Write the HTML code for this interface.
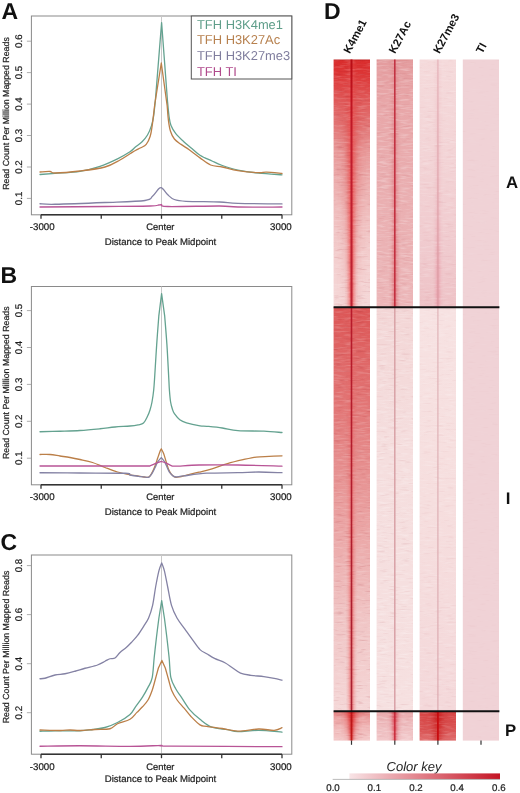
<!DOCTYPE html>
<html><head><meta charset="utf-8"><style>
html,body{margin:0;padding:0;background:#fff;width:520px;height:793px;overflow:hidden}
svg{display:block;filter:blur(0.3px)}
text{font-family:"Liberation Sans",sans-serif;text-rendering:geometricPrecision}
.t{fill:#1e1e1e;stroke:#1e1e1e;stroke-width:0.22px}
</style></head><body>
<svg width="520" height="793" viewBox="0 0 520 793" font-family='"Liberation Sans", sans-serif'>
<rect width="520" height="793" fill="#fff"/>
<rect x="31.4" y="16" width="260.4" height="198.8" fill="none" stroke="#8a8a8a" stroke-width="1"/>
<line x1="161.5" y1="16" x2="161.5" y2="214.8" stroke="#c8c8c8" stroke-width="1"/>
<path d="M40.00,174.50C42.50,174.30 48.33,173.83 55.00,173.30C61.67,172.77 72.50,172.47 80.00,171.30C87.50,170.13 93.75,168.38 100.00,166.30C106.25,164.22 112.50,161.22 117.50,158.80C122.50,156.38 127.02,153.75 130.00,151.80C132.98,149.85 133.38,148.78 135.40,147.10C137.42,145.42 140.08,143.72 142.10,141.70C144.12,139.68 145.93,137.68 147.50,135.00C149.07,132.32 150.48,128.73 151.50,125.60C152.52,122.47 152.95,120.47 153.60,116.20C154.25,111.93 155.10,102.70 155.40,100.00L161.60,22.60L167.40,100.00C167.67,102.67 168.40,111.73 169.00,116.00C169.60,120.27 169.87,122.67 171.00,125.60C172.13,128.53 173.67,130.92 175.80,133.60C177.93,136.28 181.12,139.22 183.80,141.70C186.48,144.18 189.20,146.25 191.90,148.50C194.60,150.75 196.65,153.12 200.00,155.20C203.35,157.28 208.28,159.28 212.00,161.00C215.72,162.72 217.98,163.98 222.30,165.50C226.62,167.02 231.83,168.82 237.90,170.10C243.97,171.38 251.35,172.42 258.70,173.20C266.05,173.98 278.12,174.53 282.00,174.80" fill="none" stroke="#64a290" stroke-width="1.3" stroke-linejoin="round" stroke-linecap="round"/>
<path d="M40.00,172.00C41.67,171.92 47.50,171.33 50.00,171.50C52.50,171.67 50.00,173.08 55.00,173.00C60.00,172.92 71.67,172.00 80.00,171.00C88.33,170.00 98.33,168.83 105.00,167.00C111.67,165.17 115.83,162.20 120.00,160.00C124.17,157.80 127.43,155.38 130.00,153.80C132.57,152.22 133.60,151.50 135.40,150.50C137.20,149.50 139.00,148.82 140.80,147.80C142.60,146.78 144.63,146.32 146.20,144.40C147.77,142.48 149.20,139.43 150.20,136.30C151.20,133.17 151.43,130.98 152.20,125.60C152.97,120.22 154.37,107.60 154.80,104.00L161.30,63.00L167.20,106.00C167.40,108.37 167.87,116.03 168.40,120.20C168.93,124.37 169.40,127.87 170.40,131.00C171.40,134.13 172.62,136.77 174.40,139.00C176.18,141.23 178.63,142.60 181.10,144.40C183.57,146.20 186.05,147.55 189.20,149.80C192.35,152.05 196.43,155.37 200.00,157.90C203.57,160.43 206.88,163.48 210.60,165.00C214.32,166.52 217.75,166.07 222.30,167.00C226.85,167.93 231.83,169.65 237.90,170.60C243.97,171.55 253.93,172.43 258.70,172.70C263.47,172.97 262.62,172.07 266.50,172.20C270.38,172.33 279.42,173.28 282.00,173.50" fill="none" stroke="#bb7f48" stroke-width="1.3" stroke-linejoin="round" stroke-linecap="round"/>
<path d="M40.00,203.75C42.50,203.83 44.17,204.46 55.00,204.25C65.83,204.04 90.00,203.12 105.00,202.50C120.00,201.88 137.08,201.54 145.00,200.50C152.92,199.46 150.21,198.21 152.50,196.25C154.79,194.29 157.25,190.19 158.75,188.75C160.25,187.31 161.04,187.79 161.50,187.60L161.50,187.60C161.83,187.92 162.45,188.30 163.50,189.50C164.55,190.70 166.00,193.13 167.80,194.80C169.60,196.47 171.27,198.42 174.30,199.50C177.33,200.58 178.43,200.88 186.00,201.30C193.57,201.72 211.05,201.65 219.70,202.00C228.35,202.35 227.52,203.08 237.90,203.40C248.28,203.72 274.65,203.82 282.00,203.90" fill="none" stroke="#8482a4" stroke-width="1.3" stroke-linejoin="round" stroke-linecap="round"/>
<path d="M40.00,207.00C50.83,206.92 86.67,206.67 105.00,206.50C123.33,206.33 141.04,206.25 150.00,206.00C158.96,205.75 156.83,205.25 158.75,205.00C160.67,204.75 161.04,204.58 161.50,204.50L161.50,204.50C162.55,204.83 158.10,206.25 167.80,206.50C177.50,206.75 208.02,205.92 219.70,206.00C231.38,206.08 227.52,206.83 237.90,207.00C248.28,207.17 274.65,207.00 282.00,207.00" fill="none" stroke="#b85496" stroke-width="1.3" stroke-linejoin="round" stroke-linecap="round"/>
<line x1="41" y1="214.8" x2="282" y2="214.8" stroke="#333" stroke-width="1.4"/>
<line x1="41" y1="214.8" x2="41" y2="218.8" stroke="#333" stroke-width="1.3"/>
<line x1="101.25" y1="214.8" x2="101.25" y2="218.8" stroke="#333" stroke-width="1.3"/>
<line x1="161.5" y1="214.8" x2="161.5" y2="218.8" stroke="#333" stroke-width="1.3"/>
<line x1="221.75" y1="214.8" x2="221.75" y2="218.8" stroke="#333" stroke-width="1.3"/>
<line x1="282" y1="214.8" x2="282" y2="218.8" stroke="#333" stroke-width="1.3"/>
<line x1="31.4" y1="198.4" x2="26.9" y2="198.4" stroke="#999" stroke-width="0.8"/>
<text class="t" transform="translate(21.9,198.4) rotate(-90)" text-anchor="middle" font-size="9.7">0.1</text>
<line x1="31.4" y1="167.0" x2="26.9" y2="167.0" stroke="#999" stroke-width="0.8"/>
<text class="t" transform="translate(21.9,167.0) rotate(-90)" text-anchor="middle" font-size="9.7">0.2</text>
<line x1="31.4" y1="135.5" x2="26.9" y2="135.5" stroke="#999" stroke-width="0.8"/>
<text class="t" transform="translate(21.9,135.5) rotate(-90)" text-anchor="middle" font-size="9.7">0.3</text>
<line x1="31.4" y1="104.1" x2="26.9" y2="104.1" stroke="#999" stroke-width="0.8"/>
<text class="t" transform="translate(21.9,104.1) rotate(-90)" text-anchor="middle" font-size="9.7">0.4</text>
<line x1="31.4" y1="72.6" x2="26.9" y2="72.6" stroke="#999" stroke-width="0.8"/>
<text class="t" transform="translate(21.9,72.6) rotate(-90)" text-anchor="middle" font-size="9.7">0.5</text>
<line x1="31.4" y1="41.2" x2="26.9" y2="41.2" stroke="#999" stroke-width="0.8"/>
<text class="t" transform="translate(21.9,41.2) rotate(-90)" text-anchor="middle" font-size="9.7">0.6</text>
<text class="t" x="42.2" y="230.4" text-anchor="middle" font-size="9.7">-3000</text>
<text class="t" x="160.4" y="229.8" text-anchor="middle" font-size="9.4">Center</text>
<text class="t" x="280.9" y="230.4" text-anchor="middle" font-size="9.7">3000</text>
<text class="t" x="160.5" y="245.0" text-anchor="middle" font-size="9.6">Distance to Peak Midpoint</text>
<text class="t" transform="translate(9.4,113.5) rotate(-90)" text-anchor="middle" font-size="8.8">Read Count Per Million Mapped Reads</text>
<text x="1.5" y="19.0" font-size="23" font-weight="bold" fill="#111">A</text>
<rect x="191.3" y="16" width="100.5" height="63" fill="#fff" stroke="#555" stroke-width="1"/>
<text x="197" y="28.90" font-size="12.9" fill="#5f9e8a">TFH H3K4me1</text>
<text x="197" y="44.45" font-size="12.9" fill="#b7814f">TFH H3K27Ac</text>
<text x="197" y="60.00" font-size="12.9" fill="#807e9e">TFH H3K27me3</text>
<text x="197" y="75.55" font-size="12.9" fill="#b04a8c">TFH TI</text>
<rect x="31.4" y="286.5" width="260.4" height="198.3" fill="none" stroke="#8a8a8a" stroke-width="1"/>
<line x1="161.5" y1="286.5" x2="161.5" y2="484.8" stroke="#c8c8c8" stroke-width="1"/>
<path d="M40.00,431.75C43.33,431.67 53.33,431.46 60.00,431.25C66.67,431.04 73.33,430.92 80.00,430.50C86.67,430.08 94.17,429.33 100.00,428.75C105.83,428.17 110.00,427.46 115.00,427.00C120.00,426.54 126.15,426.37 130.00,426.00C133.85,425.63 135.85,425.28 138.10,424.80C140.35,424.32 141.93,424.52 143.50,423.10C145.07,421.68 146.42,418.48 147.50,416.30C148.58,414.12 149.25,412.38 150.00,410.00C150.75,407.62 151.38,405.33 152.00,402.00C152.62,398.67 153.23,394.50 153.70,390.00C154.17,385.50 154.30,382.60 154.80,375.00C155.30,367.40 156.03,354.20 156.70,344.40C157.37,334.60 158.45,320.90 158.80,316.20L161.60,293.60L164.70,316.20C165.07,320.90 166.25,334.60 166.90,344.40C167.55,354.20 168.18,367.40 168.60,375.00C169.02,382.60 169.07,385.50 169.40,390.00C169.73,394.50 170.08,398.75 170.60,402.00C171.12,405.25 171.87,407.57 172.50,409.50C173.13,411.43 173.18,411.90 174.40,413.60C175.62,415.30 177.78,418.17 179.80,419.70C181.82,421.23 183.13,421.78 186.50,422.80C189.87,423.82 196.62,425.22 200.00,425.80C203.38,426.38 203.08,425.93 206.80,426.30C210.52,426.67 217.12,427.28 222.30,428.00C227.48,428.72 230.97,430.07 237.90,430.60C244.83,431.13 256.55,430.88 263.90,431.20C271.25,431.52 278.98,432.28 282.00,432.50" fill="none" stroke="#64a290" stroke-width="1.3" stroke-linejoin="round" stroke-linecap="round"/>
<path d="M40.00,454.50C41.67,454.50 46.67,454.25 50.00,454.50C53.33,454.75 56.67,455.50 60.00,456.00C63.33,456.50 66.67,456.92 70.00,457.50C73.33,458.08 76.25,458.67 80.00,459.50C83.75,460.33 88.33,461.17 92.50,462.50C96.67,463.83 100.83,465.92 105.00,467.50C109.17,469.08 113.33,470.78 117.50,472.00C121.67,473.22 126.47,474.12 130.00,474.80C133.53,475.48 136.37,475.73 138.70,476.10C141.03,476.47 142.57,476.78 144.00,477.00C145.43,477.22 146.32,477.55 147.30,477.40C148.28,477.25 149.03,477.03 149.90,476.10C150.77,475.17 151.63,473.52 152.50,471.80C153.37,470.08 154.23,468.10 155.10,465.80C155.97,463.50 156.92,460.32 157.70,458.00C158.48,455.68 159.20,453.42 159.80,451.90C160.40,450.38 161.05,449.40 161.30,448.90L161.30,448.90C161.70,449.70 162.87,451.47 163.70,453.70C164.53,455.93 165.43,459.57 166.30,462.30C167.17,465.03 168.03,468.08 168.90,470.10C169.77,472.12 170.48,473.22 171.50,474.40C172.52,475.58 173.58,476.80 175.00,477.20C176.42,477.60 178.17,477.12 180.00,476.80C181.83,476.48 182.83,476.07 186.00,475.30C189.17,474.53 194.67,473.28 199.00,472.20C203.33,471.12 207.25,470.23 212.00,468.80C216.75,467.37 222.32,465.12 227.50,463.60C232.68,462.08 238.33,460.78 243.10,459.70C247.87,458.62 251.77,457.65 256.10,457.10C260.43,456.55 264.78,456.62 269.10,456.40C273.42,456.18 279.85,455.90 282.00,455.80" fill="none" stroke="#bb7f48" stroke-width="1.3" stroke-linejoin="round" stroke-linecap="round"/>
<path d="M40.00,472.75C46.67,472.79 65.83,472.92 80.00,473.00C94.17,473.08 116.67,472.92 125.00,473.25C133.33,473.58 127.72,474.49 130.00,475.00C132.28,475.51 135.82,475.90 138.70,476.30C141.58,476.70 145.43,477.40 147.30,477.40C149.17,477.40 149.03,477.08 149.90,476.30C150.77,475.52 151.63,474.17 152.50,472.70C153.37,471.23 154.23,469.30 155.10,467.50C155.97,465.70 156.67,463.55 157.70,461.90C158.73,460.25 160.70,458.32 161.30,457.60L161.30,457.60C161.85,458.32 163.62,460.25 164.60,461.90C165.58,463.55 166.33,465.70 167.20,467.50C168.07,469.30 168.78,471.27 169.80,472.70C170.82,474.13 172.18,475.38 173.30,476.10C174.42,476.82 174.75,477.03 176.50,477.00C178.25,476.97 178.75,476.53 183.80,475.90C188.85,475.27 197.78,473.73 206.80,473.20C215.82,472.67 229.25,472.90 237.90,472.70C246.55,472.50 251.35,472.00 258.70,472.00C266.05,472.00 278.12,472.58 282.00,472.70" fill="none" stroke="#8482a4" stroke-width="1.3" stroke-linejoin="round" stroke-linecap="round"/>
<path d="M40.00,466.00C50.00,466.00 82.50,466.00 100.00,466.00C117.50,466.00 136.68,466.03 145.00,466.00C153.32,465.97 148.22,466.20 149.90,465.80C151.58,465.40 153.20,464.33 155.10,463.60C157.00,462.87 160.27,461.77 161.30,461.40L161.30,461.40C162.13,461.70 164.73,462.55 166.30,463.20C167.87,463.85 169.25,464.80 170.70,465.30C172.15,465.80 170.28,466.25 175.00,466.20C179.72,466.15 188.52,465.20 199.00,465.00C209.48,464.80 224.07,464.80 237.90,465.00C251.73,465.20 274.65,466.00 282.00,466.20" fill="none" stroke="#b85496" stroke-width="1.3" stroke-linejoin="round" stroke-linecap="round"/>
<line x1="41" y1="484.8" x2="282" y2="484.8" stroke="#333" stroke-width="1.4"/>
<line x1="41" y1="484.8" x2="41" y2="488.8" stroke="#333" stroke-width="1.3"/>
<line x1="101.25" y1="484.8" x2="101.25" y2="488.8" stroke="#333" stroke-width="1.3"/>
<line x1="161.5" y1="484.8" x2="161.5" y2="488.8" stroke="#333" stroke-width="1.3"/>
<line x1="221.75" y1="484.8" x2="221.75" y2="488.8" stroke="#333" stroke-width="1.3"/>
<line x1="282" y1="484.8" x2="282" y2="488.8" stroke="#333" stroke-width="1.3"/>
<line x1="31.4" y1="458.2" x2="26.9" y2="458.2" stroke="#999" stroke-width="0.8"/>
<text class="t" transform="translate(21.9,458.2) rotate(-90)" text-anchor="middle" font-size="9.7">0.1</text>
<line x1="31.4" y1="421.3" x2="26.9" y2="421.3" stroke="#999" stroke-width="0.8"/>
<text class="t" transform="translate(21.9,421.3) rotate(-90)" text-anchor="middle" font-size="9.7">0.2</text>
<line x1="31.4" y1="384.4" x2="26.9" y2="384.4" stroke="#999" stroke-width="0.8"/>
<text class="t" transform="translate(21.9,384.4) rotate(-90)" text-anchor="middle" font-size="9.7">0.3</text>
<line x1="31.4" y1="347.5" x2="26.9" y2="347.5" stroke="#999" stroke-width="0.8"/>
<text class="t" transform="translate(21.9,347.5) rotate(-90)" text-anchor="middle" font-size="9.7">0.4</text>
<line x1="31.4" y1="310.6" x2="26.9" y2="310.6" stroke="#999" stroke-width="0.8"/>
<text class="t" transform="translate(21.9,310.6) rotate(-90)" text-anchor="middle" font-size="9.7">0.5</text>
<text class="t" x="42.2" y="500.4" text-anchor="middle" font-size="9.7">-3000</text>
<text class="t" x="160.4" y="499.79999999999995" text-anchor="middle" font-size="9.4">Center</text>
<text class="t" x="280.9" y="500.4" text-anchor="middle" font-size="9.7">3000</text>
<text class="t" x="160.5" y="515.0" text-anchor="middle" font-size="9.6">Distance to Peak Midpoint</text>
<text class="t" transform="translate(9.4,382.7) rotate(-90)" text-anchor="middle" font-size="8.8">Read Count Per Million Mapped Reads</text>
<text x="0.4" y="282.8" font-size="23" font-weight="bold" fill="#111">B</text>
<rect x="31.4" y="555" width="260.4" height="199.2" fill="none" stroke="#8a8a8a" stroke-width="1"/>
<line x1="161.5" y1="555" x2="161.5" y2="754.2" stroke="#c8c8c8" stroke-width="1"/>
<path d="M40.00,678.75C40.83,678.67 42.50,678.88 45.00,678.25C47.50,677.62 51.67,675.75 55.00,675.00C58.33,674.25 61.67,674.38 65.00,673.75C68.33,673.12 71.67,672.17 75.00,671.25C78.33,670.33 81.25,669.29 85.00,668.25C88.75,667.21 94.17,666.17 97.50,665.00C100.83,663.83 102.92,662.29 105.00,661.25C107.08,660.21 108.33,659.29 110.00,658.75C111.67,658.21 113.33,659.04 115.00,658.00C116.67,656.96 118.12,654.25 120.00,652.50C121.88,650.75 124.37,649.17 126.25,647.50C128.13,645.83 129.41,644.52 131.30,642.50C133.19,640.48 135.50,638.17 137.60,635.40C139.70,632.63 142.07,628.80 143.90,625.90C145.73,623.00 147.15,621.42 148.60,618.00C150.05,614.58 151.42,610.65 152.60,605.40C153.78,600.15 154.65,592.27 155.70,586.50C156.75,580.73 157.90,574.73 158.90,570.80C159.90,566.87 161.23,564.22 161.70,562.90L161.70,562.90C162.15,564.22 163.42,566.87 164.40,570.80C165.38,574.73 166.42,580.73 167.60,586.50C168.78,592.27 169.93,600.15 171.50,605.40C173.07,610.65 174.77,614.05 177.00,618.00C179.23,621.95 182.27,625.42 184.90,629.10C187.53,632.78 190.28,636.68 192.80,640.10C195.32,643.52 197.68,647.33 200.00,649.60C202.32,651.87 204.28,652.23 206.70,653.70C209.12,655.17 211.47,656.88 214.50,658.40C217.53,659.92 221.87,661.20 224.90,662.80C227.93,664.40 230.10,666.27 232.70,668.00C235.30,669.73 237.47,671.98 240.50,673.20C243.53,674.42 247.02,674.73 250.90,675.30C254.78,675.87 259.92,676.08 263.80,676.60C267.68,677.12 271.17,677.80 274.20,678.40C277.23,679.00 280.70,679.90 282.00,680.20" fill="none" stroke="#8482a4" stroke-width="1.3" stroke-linejoin="round" stroke-linecap="round"/>
<path d="M40.00,731.25C42.50,731.17 48.33,730.83 55.00,730.75C61.67,730.67 73.75,730.96 80.00,730.75C86.25,730.54 88.33,730.04 92.50,729.50C96.67,728.96 100.83,728.67 105.00,727.50C109.17,726.33 113.33,724.68 117.50,722.50C121.67,720.32 127.00,717.02 130.00,714.40C133.00,711.78 133.42,709.68 135.50,706.80C137.58,703.92 140.42,700.33 142.50,697.10C144.58,693.87 146.38,690.63 148.00,687.40C149.62,684.17 151.17,682.68 152.20,677.70C153.23,672.72 153.48,664.28 154.20,657.50C154.92,650.72 155.72,643.58 156.50,637.00C157.28,630.42 158.50,621.17 158.90,618.00L161.70,600.70L164.40,618.00C164.80,621.17 166.02,630.42 166.80,637.00C167.58,643.58 168.42,650.72 169.10,657.50C169.78,664.28 169.80,672.48 170.90,677.70C172.00,682.92 173.97,685.57 175.70,688.80C177.43,692.03 178.98,693.63 181.30,697.10C183.62,700.57 186.48,705.90 189.60,709.60C192.72,713.30 196.28,716.37 200.00,719.30C203.72,722.23 207.32,725.48 211.90,727.20C216.48,728.92 223.17,728.87 227.50,729.60C231.83,730.33 232.70,731.48 237.90,731.60C243.10,731.72 251.35,730.22 258.70,730.30C266.05,730.38 278.12,731.80 282.00,732.10" fill="none" stroke="#64a290" stroke-width="1.3" stroke-linejoin="round" stroke-linecap="round"/>
<path d="M40.00,730.00C43.33,730.08 55.00,730.50 60.00,730.50C65.00,730.50 66.67,730.00 70.00,730.00C73.33,730.00 75.83,730.58 80.00,730.50C84.17,730.42 90.00,729.79 95.00,729.50C100.00,729.21 106.25,729.71 110.00,728.75C113.75,727.79 114.17,725.33 117.50,723.75C120.83,722.17 126.77,721.19 130.00,719.30C133.23,717.41 134.82,714.48 136.90,712.40C138.98,710.32 140.65,708.87 142.50,706.80C144.35,704.73 146.38,702.77 148.00,700.00C149.62,697.23 151.03,693.45 152.20,690.20C153.37,686.95 153.97,684.20 155.00,680.50C156.03,676.80 157.83,670.08 158.40,668.00L161.90,660.40L165.30,668.00C165.88,670.08 167.75,676.80 168.80,680.50C169.85,684.20 170.22,686.95 171.60,690.20C172.98,693.45 175.02,697.00 177.10,700.00C179.18,703.00 181.78,705.45 184.10,708.20C186.42,710.95 188.35,713.72 191.00,716.50C193.65,719.28 197.38,723.25 200.00,724.90C202.62,726.55 202.98,725.80 206.70,726.40C210.42,727.00 217.10,727.72 222.30,728.50C227.50,729.28 231.83,731.02 237.90,731.10C243.97,731.18 252.65,729.13 258.70,729.00C264.75,728.87 270.32,730.52 274.20,730.30C278.08,730.08 280.70,728.13 282.00,727.70" fill="none" stroke="#bb7f48" stroke-width="1.3" stroke-linejoin="round" stroke-linecap="round"/>
<path d="M40.00,746.25C46.67,746.17 65.00,745.74 80.00,745.75C95.00,745.76 117.05,746.32 130.00,746.30C142.95,746.27 152.38,745.75 157.70,745.60C163.02,745.45 161.20,745.43 161.90,745.40L161.90,745.40C163.52,745.52 151.58,745.88 171.60,746.10C191.62,746.32 263.60,746.60 282.00,746.70" fill="none" stroke="#b85496" stroke-width="1.3" stroke-linejoin="round" stroke-linecap="round"/>
<line x1="41" y1="754.2" x2="282" y2="754.2" stroke="#333" stroke-width="1.4"/>
<line x1="41" y1="754.2" x2="41" y2="758.2" stroke="#333" stroke-width="1.3"/>
<line x1="101.25" y1="754.2" x2="101.25" y2="758.2" stroke="#333" stroke-width="1.3"/>
<line x1="161.5" y1="754.2" x2="161.5" y2="758.2" stroke="#333" stroke-width="1.3"/>
<line x1="221.75" y1="754.2" x2="221.75" y2="758.2" stroke="#333" stroke-width="1.3"/>
<line x1="282" y1="754.2" x2="282" y2="758.2" stroke="#333" stroke-width="1.3"/>
<line x1="31.4" y1="712.7" x2="26.9" y2="712.7" stroke="#999" stroke-width="0.8"/>
<text class="t" transform="translate(21.9,712.7) rotate(-90)" text-anchor="middle" font-size="9.7">0.2</text>
<line x1="31.4" y1="663.7" x2="26.9" y2="663.7" stroke="#999" stroke-width="0.8"/>
<text class="t" transform="translate(21.9,663.7) rotate(-90)" text-anchor="middle" font-size="9.7">0.4</text>
<line x1="31.4" y1="614.6" x2="26.9" y2="614.6" stroke="#999" stroke-width="0.8"/>
<text class="t" transform="translate(21.9,614.6) rotate(-90)" text-anchor="middle" font-size="9.7">0.6</text>
<line x1="31.4" y1="565.6" x2="26.9" y2="565.6" stroke="#999" stroke-width="0.8"/>
<text class="t" transform="translate(21.9,565.6) rotate(-90)" text-anchor="middle" font-size="9.7">0.8</text>
<text class="t" x="42.2" y="770.3" text-anchor="middle" font-size="9.7">-3000</text>
<text class="t" x="160.4" y="769.6999999999999" text-anchor="middle" font-size="9.4">Center</text>
<text class="t" x="280.9" y="770.3" text-anchor="middle" font-size="9.7">3000</text>
<text class="t" x="160.5" y="781.8" text-anchor="middle" font-size="9.6">Distance to Peak Midpoint</text>
<text class="t" transform="translate(9.4,647) rotate(-90)" text-anchor="middle" font-size="8.8">Read Count Per Million Mapped Reads</text>
<text x="0.5" y="550.4" font-size="23" font-weight="bold" fill="#111">C</text>
<rect x="333.6" y="59.5" width="36.4" height="247.8" fill="url(#g1)"/>
<rect x="336.50" y="59.5" width="30.00" height="247.80" fill="url(#h2)" mask="url(#m4)"/>
<rect x="345.00" y="59.5" width="13.00" height="247.80" fill="url(#h5)" mask="url(#m7)"/>
<rect x="333.6" y="307.3" width="36.4" height="404.0" fill="url(#g9)"/>
<rect x="345.50" y="307.3" width="12.00" height="404.00" fill="url(#h10)" mask="url(#m12)"/>
<rect x="333.6" y="711.3" width="36.4" height="29.3" fill="url(#g14)"/>
<rect x="340.50" y="711.3" width="22.00" height="29.30" fill="url(#h15)" mask="url(#m17)"/>
<rect x="347.00" y="711.3" width="9.00" height="29.30" fill="url(#h18)" mask="url(#m20)"/>
<rect x="376.6" y="59.5" width="36.4" height="247.8" fill="url(#g22)"/>
<rect x="388.80" y="59.5" width="12.00" height="247.80" fill="url(#h23)" mask="url(#m25)"/>
<rect x="376.6" y="307.3" width="36.4" height="404.0" fill="url(#g27)"/>
<rect x="376.6" y="711.3" width="36.4" height="29.3" fill="url(#g29)"/>
<rect x="386.80" y="711.3" width="16.00" height="29.30" fill="url(#h30)" mask="url(#m32)"/>
<rect x="390.80" y="711.3" width="8.00" height="29.30" fill="url(#h33)" mask="url(#m35)"/>
<rect x="419.6" y="59.5" width="36.4" height="247.8" fill="url(#g37)"/>
<rect x="432.90" y="59.5" width="10.00" height="247.80" fill="url(#h38)" mask="url(#m40)"/>
<rect x="419.6" y="307.3" width="36.4" height="404.0" fill="url(#g42)"/>
<rect x="419.6" y="711.3" width="36.4" height="29.3" fill="url(#g44)"/>
<rect x="427.90" y="711.3" width="20.00" height="29.30" fill="url(#h45)" mask="url(#m47)"/>
<rect x="462.8" y="59.5" width="36.2" height="681.1" fill="#f0d2d6"/>
<g clip-path="url(#c49)"><rect x="331.6" y="57.5" width="40.4" height="685.1" filter="url(#tw)" opacity="0.5"/><rect x="331.6" y="57.5" width="40.4" height="685.1" filter="url(#td)" opacity="0.6"/></g>
<g clip-path="url(#c50)"><rect x="374.6" y="57.5" width="40.4" height="685.1" filter="url(#tw)" opacity="0.75"/><rect x="374.6" y="57.5" width="40.4" height="685.1" filter="url(#td)" opacity="0.3"/></g>
<g clip-path="url(#c51)"><rect x="417.6" y="57.5" width="40.4" height="685.1" filter="url(#tw)" opacity="0.5"/><rect x="417.6" y="57.5" width="40.4" height="685.1" filter="url(#td)" opacity="0.2"/></g>
<g clip-path="url(#c52)"><rect x="460.8" y="57.5" width="40.2" height="685.1" filter="url(#tw)" opacity="0.15"/><rect x="460.8" y="57.5" width="40.2" height="685.1" filter="url(#td)" opacity="0.08"/></g>
<rect x="350.50" y="59.5" width="2.0" height="247.8" fill="url(#g8)"/>
<rect x="350.70" y="307.3" width="1.6" height="404.0" fill="url(#g13)"/>
<rect x="350.70" y="711.3" width="1.6" height="29.3" fill="url(#g21)"/>
<rect x="394.00" y="59.5" width="1.6" height="247.8" fill="url(#g26)"/>
<rect x="394.05" y="307.3" width="1.5" height="404.0" fill="url(#g28)"/>
<rect x="394.10" y="711.3" width="1.4" height="29.3" fill="url(#g36)"/>
<rect x="437.25" y="59.5" width="1.3" height="247.8" fill="url(#g41)"/>
<rect x="437.30" y="307.3" width="1.2" height="404.0" fill="url(#g43)"/>
<rect x="437.00" y="711.3" width="1.8" height="29.3" fill="url(#g48)"/>
<line x1="351.5" y1="740.6" x2="351.5" y2="744.8000000000001" stroke="#333" stroke-width="1.2"/>
<line x1="394.8" y1="740.6" x2="394.8" y2="744.8000000000001" stroke="#333" stroke-width="1.2"/>
<line x1="437.9" y1="740.6" x2="437.9" y2="744.8000000000001" stroke="#333" stroke-width="1.2"/>
<line x1="481.0" y1="740.6" x2="481.0" y2="744.8000000000001" stroke="#333" stroke-width="1.2"/>
<line x1="333.6" y1="307.3" x2="499.4" y2="307.3" stroke="#111" stroke-width="2.1"/>
<line x1="333.6" y1="711.3" x2="499.4" y2="711.3" stroke="#111" stroke-width="2.1"/>
<text transform="translate(349.8,54.3) rotate(-62)" font-size="11.2" font-weight="bold" fill="#111">K4me1</text>
<text transform="translate(395.1,54.3) rotate(-62)" font-size="11.2" font-weight="bold" fill="#111">K27Ac</text>
<text transform="translate(439.5,54.3) rotate(-62)" font-size="11.2" font-weight="bold" fill="#111">K27me3</text>
<text transform="translate(482.2,54.3) rotate(-62)" font-size="11.2" font-weight="bold" fill="#111">TI</text>
<text x="323.9" y="19" font-size="23" font-weight="bold" fill="#111">D</text>
<text x="505.9" y="187.9" font-size="16.8" font-weight="bold" fill="#111">A</text>
<text x="505.7" y="503.6" font-size="16.8" font-weight="bold" fill="#111">I</text>
<text x="504.9" y="735.6" font-size="16.8" font-weight="bold" fill="#111">P</text>
<text x="414" y="771" text-anchor="middle" font-size="13" font-style="italic" fill="#1e1e1e">Color key</text>
<rect x="349.4" y="773.4" width="150.6" height="5.8" fill="url(#ck)"/>
<line x1="332.7" y1="779.4" x2="500" y2="779.4" stroke="#aaa" stroke-width="0.8"/>
<text class="t" x="333.0" y="790.6" text-anchor="middle" font-size="9.7">0.0</text>
<text class="t" x="374.3" y="790.6" text-anchor="middle" font-size="9.7">0.1</text>
<text class="t" x="415.9" y="790.6" text-anchor="middle" font-size="9.7">0.2</text>
<text class="t" x="457.1" y="790.6" text-anchor="middle" font-size="9.7">0.4</text>
<text class="t" x="498.8" y="790.6" text-anchor="middle" font-size="9.7">0.6</text>
<defs><linearGradient id="g1" gradientUnits="userSpaceOnUse" x1="0" y1="59.5" x2="0" y2="307.3"><stop offset="0.0000" stop-color="#c02020"/><stop offset="0.0061" stop-color="#da2e2e"/><stop offset="0.0504" stop-color="#dc3434"/><stop offset="0.1029" stop-color="#de4444"/><stop offset="0.1634" stop-color="#e05a5a"/><stop offset="0.2643" stop-color="#e27474"/><stop offset="0.3652" stop-color="#e89898"/><stop offset="0.4863" stop-color="#ecacac"/><stop offset="0.6477" stop-color="#f0c0c0"/><stop offset="0.8091" stop-color="#f3cece"/><stop offset="0.9988" stop-color="#f5d8d8"/></linearGradient><linearGradient id="h2" gradientUnits="userSpaceOnUse" x1="336.50" y1="0" x2="366.50" y2="0"><stop offset="0.000" stop-color="#dc4444" stop-opacity="0.018"/><stop offset="0.125" stop-color="#dc4444" stop-opacity="0.105"/><stop offset="0.250" stop-color="#dc4444" stop-opacity="0.368"/><stop offset="0.375" stop-color="#dc4444" stop-opacity="0.779"/><stop offset="0.500" stop-color="#dc4444" stop-opacity="1.000"/><stop offset="0.625" stop-color="#dc4444" stop-opacity="0.779"/><stop offset="0.750" stop-color="#dc4444" stop-opacity="0.368"/><stop offset="0.875" stop-color="#dc4444" stop-opacity="0.105"/><stop offset="1.000" stop-color="#dc4444" stop-opacity="0.018"/></linearGradient><linearGradient id="g3" gradientUnits="userSpaceOnUse" x1="0" y1="59.5" x2="0" y2="307.3"><stop offset="0.0020" stop-color="#fff" stop-opacity="0"/><stop offset="0.1029" stop-color="#fff" stop-opacity="0.4"/><stop offset="0.2441" stop-color="#fff" stop-opacity="0.55"/><stop offset="0.4459" stop-color="#fff" stop-opacity="0.45"/><stop offset="0.6881" stop-color="#fff" stop-opacity="0.25"/><stop offset="0.9988" stop-color="#fff" stop-opacity="0.1"/></linearGradient><mask id="m4" maskUnits="userSpaceOnUse" x="336.50" y="59.5" width="30.00" height="247.80"><rect x="336.50" y="59.5" width="30.00" height="247.80" fill="url(#g3)"/></mask><linearGradient id="h5" gradientUnits="userSpaceOnUse" x1="345.00" y1="0" x2="358.00" y2="0"><stop offset="0.000" stop-color="#ec5050" stop-opacity="0.018"/><stop offset="0.125" stop-color="#ec5050" stop-opacity="0.105"/><stop offset="0.250" stop-color="#ec5050" stop-opacity="0.368"/><stop offset="0.375" stop-color="#ec5050" stop-opacity="0.779"/><stop offset="0.500" stop-color="#ec5050" stop-opacity="1.000"/><stop offset="0.625" stop-color="#ec5050" stop-opacity="0.779"/><stop offset="0.750" stop-color="#ec5050" stop-opacity="0.368"/><stop offset="0.875" stop-color="#ec5050" stop-opacity="0.105"/><stop offset="1.000" stop-color="#ec5050" stop-opacity="0.018"/></linearGradient><linearGradient id="g6" gradientUnits="userSpaceOnUse" x1="0" y1="59.5" x2="0" y2="307.3"><stop offset="0.0020" stop-color="#fff" stop-opacity="0.3"/><stop offset="0.2441" stop-color="#fff" stop-opacity="0.7"/><stop offset="0.4863" stop-color="#fff" stop-opacity="0.85"/><stop offset="0.7688" stop-color="#fff" stop-opacity="0.85"/><stop offset="0.9988" stop-color="#fff" stop-opacity="0.8"/></linearGradient><mask id="m7" maskUnits="userSpaceOnUse" x="345.00" y="59.5" width="13.00" height="247.80"><rect x="345.00" y="59.5" width="13.00" height="247.80" fill="url(#g6)"/></mask><linearGradient id="g8" gradientUnits="userSpaceOnUse" x1="0" y1="59.5" x2="0" y2="307.3"><stop offset="0.0020" stop-color="#b80c14"/><stop offset="0.1634" stop-color="#c01420"/><stop offset="0.3652" stop-color="#c01c2c"/><stop offset="0.9988" stop-color="#bc2232"/></linearGradient><linearGradient id="g9" gradientUnits="userSpaceOnUse" x1="0" y1="307.3" x2="0" y2="711.3"><stop offset="0.0017" stop-color="#dc5656"/><stop offset="0.0809" stop-color="#de6060"/><stop offset="0.2295" stop-color="#e27474"/><stop offset="0.3903" stop-color="#e68e8e"/><stop offset="0.5512" stop-color="#eba6a6"/><stop offset="0.7616" stop-color="#f0c4c4"/><stop offset="0.9720" stop-color="#f4d4d4"/><stop offset="0.9993" stop-color="#f5d8d8"/></linearGradient><linearGradient id="h10" gradientUnits="userSpaceOnUse" x1="345.50" y1="0" x2="357.50" y2="0"><stop offset="0.000" stop-color="#ec6464" stop-opacity="0.018"/><stop offset="0.125" stop-color="#ec6464" stop-opacity="0.105"/><stop offset="0.250" stop-color="#ec6464" stop-opacity="0.368"/><stop offset="0.375" stop-color="#ec6464" stop-opacity="0.779"/><stop offset="0.500" stop-color="#ec6464" stop-opacity="1.000"/><stop offset="0.625" stop-color="#ec6464" stop-opacity="0.779"/><stop offset="0.750" stop-color="#ec6464" stop-opacity="0.368"/><stop offset="0.875" stop-color="#ec6464" stop-opacity="0.105"/><stop offset="1.000" stop-color="#ec6464" stop-opacity="0.018"/></linearGradient><linearGradient id="g11" gradientUnits="userSpaceOnUse" x1="0" y1="307.3" x2="0" y2="711.3"><stop offset="0.0017" stop-color="#fff" stop-opacity="0.2"/><stop offset="0.3532" stop-color="#fff" stop-opacity="0.5"/><stop offset="0.6007" stop-color="#fff" stop-opacity="0.7"/><stop offset="0.9993" stop-color="#fff" stop-opacity="0.75"/></linearGradient><mask id="m12" maskUnits="userSpaceOnUse" x="345.50" y="307.3" width="12.00" height="404.00"><rect x="345.50" y="307.3" width="12.00" height="404.00" fill="url(#g11)"/></mask><linearGradient id="g13" gradientUnits="userSpaceOnUse" x1="0" y1="307.3" x2="0" y2="711.3"><stop offset="0.0017" stop-color="#b81a2a"/><stop offset="0.9993" stop-color="#a82030"/></linearGradient><linearGradient id="g14" gradientUnits="userSpaceOnUse" x1="0" y1="711.3" x2="0" y2="740.6"><stop offset="0.0239" stop-color="#e48080"/><stop offset="0.2287" stop-color="#eba0a0"/><stop offset="0.5700" stop-color="#f0b8b8"/><stop offset="0.9795" stop-color="#f3c8c8"/></linearGradient><linearGradient id="h15" gradientUnits="userSpaceOnUse" x1="340.50" y1="0" x2="362.50" y2="0"><stop offset="0.000" stop-color="#e03030" stop-opacity="0.018"/><stop offset="0.125" stop-color="#e03030" stop-opacity="0.105"/><stop offset="0.250" stop-color="#e03030" stop-opacity="0.368"/><stop offset="0.375" stop-color="#e03030" stop-opacity="0.779"/><stop offset="0.500" stop-color="#e03030" stop-opacity="1.000"/><stop offset="0.625" stop-color="#e03030" stop-opacity="0.779"/><stop offset="0.750" stop-color="#e03030" stop-opacity="0.368"/><stop offset="0.875" stop-color="#e03030" stop-opacity="0.105"/><stop offset="1.000" stop-color="#e03030" stop-opacity="0.018"/></linearGradient><linearGradient id="g16" gradientUnits="userSpaceOnUse" x1="0" y1="711.3" x2="0" y2="740.6"><stop offset="0.0239" stop-color="#fff" stop-opacity="0.85"/><stop offset="0.4676" stop-color="#fff" stop-opacity="0.5"/><stop offset="0.9795" stop-color="#fff" stop-opacity="0.2"/></linearGradient><mask id="m17" maskUnits="userSpaceOnUse" x="340.50" y="711.3" width="22.00" height="29.30"><rect x="340.50" y="711.3" width="22.00" height="29.30" fill="url(#g16)"/></mask><linearGradient id="h18" gradientUnits="userSpaceOnUse" x1="347.00" y1="0" x2="356.00" y2="0"><stop offset="0.000" stop-color="#d82020" stop-opacity="0.018"/><stop offset="0.125" stop-color="#d82020" stop-opacity="0.105"/><stop offset="0.250" stop-color="#d82020" stop-opacity="0.368"/><stop offset="0.375" stop-color="#d82020" stop-opacity="0.779"/><stop offset="0.500" stop-color="#d82020" stop-opacity="1.000"/><stop offset="0.625" stop-color="#d82020" stop-opacity="0.779"/><stop offset="0.750" stop-color="#d82020" stop-opacity="0.368"/><stop offset="0.875" stop-color="#d82020" stop-opacity="0.105"/><stop offset="1.000" stop-color="#d82020" stop-opacity="0.018"/></linearGradient><linearGradient id="g19" gradientUnits="userSpaceOnUse" x1="0" y1="711.3" x2="0" y2="740.6"><stop offset="0.0239" stop-color="#fff" stop-opacity="0.75"/><stop offset="0.9795" stop-color="#fff" stop-opacity="0.6"/></linearGradient><mask id="m20" maskUnits="userSpaceOnUse" x="347.00" y="711.3" width="9.00" height="29.30"><rect x="347.00" y="711.3" width="9.00" height="29.30" fill="url(#g19)"/></mask><linearGradient id="g21" gradientUnits="userSpaceOnUse" x1="0" y1="711.3" x2="0" y2="740.6"><stop offset="0.0239" stop-color="#b81418"/><stop offset="0.9795" stop-color="#c01818"/></linearGradient><linearGradient id="g22" gradientUnits="userSpaceOnUse" x1="0" y1="59.5" x2="0" y2="307.3"><stop offset="0.0000" stop-color="#d88080"/><stop offset="0.0061" stop-color="#e49c9e"/><stop offset="0.1634" stop-color="#e8a6a8"/><stop offset="0.5670" stop-color="#eaafb1"/><stop offset="0.9988" stop-color="#ecb6b8"/></linearGradient><linearGradient id="h23" gradientUnits="userSpaceOnUse" x1="388.80" y1="0" x2="400.80" y2="0"><stop offset="0.000" stop-color="#dc6068" stop-opacity="0.018"/><stop offset="0.125" stop-color="#dc6068" stop-opacity="0.105"/><stop offset="0.250" stop-color="#dc6068" stop-opacity="0.368"/><stop offset="0.375" stop-color="#dc6068" stop-opacity="0.779"/><stop offset="0.500" stop-color="#dc6068" stop-opacity="1.000"/><stop offset="0.625" stop-color="#dc6068" stop-opacity="0.779"/><stop offset="0.750" stop-color="#dc6068" stop-opacity="0.368"/><stop offset="0.875" stop-color="#dc6068" stop-opacity="0.105"/><stop offset="1.000" stop-color="#dc6068" stop-opacity="0.018"/></linearGradient><linearGradient id="g24" gradientUnits="userSpaceOnUse" x1="0" y1="59.5" x2="0" y2="307.3"><stop offset="0.0020" stop-color="#fff" stop-opacity="0.25"/><stop offset="0.5670" stop-color="#fff" stop-opacity="0.45"/><stop offset="0.9988" stop-color="#fff" stop-opacity="0.7"/></linearGradient><mask id="m25" maskUnits="userSpaceOnUse" x="388.80" y="59.5" width="12.00" height="247.80"><rect x="388.80" y="59.5" width="12.00" height="247.80" fill="url(#g24)"/></mask><linearGradient id="g26" gradientUnits="userSpaceOnUse" x1="0" y1="59.5" x2="0" y2="307.3"><stop offset="0.0020" stop-color="#c23444"/><stop offset="0.9988" stop-color="#c23040"/></linearGradient><linearGradient id="g27" gradientUnits="userSpaceOnUse" x1="0" y1="307.3" x2="0" y2="711.3"><stop offset="0.0017" stop-color="#f3d6d6"/><stop offset="0.3532" stop-color="#f5dede"/><stop offset="0.9993" stop-color="#f6e0e0"/></linearGradient><linearGradient id="g28" gradientUnits="userSpaceOnUse" x1="0" y1="307.3" x2="0" y2="711.3"><stop offset="0.0017" stop-color="#d8a2a6"/><stop offset="0.9993" stop-color="#d8a0a6"/></linearGradient><linearGradient id="g29" gradientUnits="userSpaceOnUse" x1="0" y1="711.3" x2="0" y2="740.6"><stop offset="0.0239" stop-color="#eaaaac"/><stop offset="0.4676" stop-color="#eebcbe"/><stop offset="0.9795" stop-color="#f2c8ca"/></linearGradient><linearGradient id="h30" gradientUnits="userSpaceOnUse" x1="386.80" y1="0" x2="402.80" y2="0"><stop offset="0.000" stop-color="#d83848" stop-opacity="0.018"/><stop offset="0.125" stop-color="#d83848" stop-opacity="0.105"/><stop offset="0.250" stop-color="#d83848" stop-opacity="0.368"/><stop offset="0.375" stop-color="#d83848" stop-opacity="0.779"/><stop offset="0.500" stop-color="#d83848" stop-opacity="1.000"/><stop offset="0.625" stop-color="#d83848" stop-opacity="0.779"/><stop offset="0.750" stop-color="#d83848" stop-opacity="0.368"/><stop offset="0.875" stop-color="#d83848" stop-opacity="0.105"/><stop offset="1.000" stop-color="#d83848" stop-opacity="0.018"/></linearGradient><linearGradient id="g31" gradientUnits="userSpaceOnUse" x1="0" y1="711.3" x2="0" y2="740.6"><stop offset="0.0239" stop-color="#fff" stop-opacity="0.6"/><stop offset="0.9795" stop-color="#fff" stop-opacity="0.25"/></linearGradient><mask id="m32" maskUnits="userSpaceOnUse" x="386.80" y="711.3" width="16.00" height="29.30"><rect x="386.80" y="711.3" width="16.00" height="29.30" fill="url(#g31)"/></mask><linearGradient id="h33" gradientUnits="userSpaceOnUse" x1="390.80" y1="0" x2="398.80" y2="0"><stop offset="0.000" stop-color="#d83040" stop-opacity="0.018"/><stop offset="0.125" stop-color="#d83040" stop-opacity="0.105"/><stop offset="0.250" stop-color="#d83040" stop-opacity="0.368"/><stop offset="0.375" stop-color="#d83040" stop-opacity="0.779"/><stop offset="0.500" stop-color="#d83040" stop-opacity="1.000"/><stop offset="0.625" stop-color="#d83040" stop-opacity="0.779"/><stop offset="0.750" stop-color="#d83040" stop-opacity="0.368"/><stop offset="0.875" stop-color="#d83040" stop-opacity="0.105"/><stop offset="1.000" stop-color="#d83040" stop-opacity="0.018"/></linearGradient><linearGradient id="g34" gradientUnits="userSpaceOnUse" x1="0" y1="711.3" x2="0" y2="740.6"><stop offset="0.0239" stop-color="#fff" stop-opacity="0.5"/><stop offset="0.9795" stop-color="#fff" stop-opacity="0.5"/></linearGradient><mask id="m35" maskUnits="userSpaceOnUse" x="390.80" y="711.3" width="8.00" height="29.30"><rect x="390.80" y="711.3" width="8.00" height="29.30" fill="url(#g34)"/></mask><linearGradient id="g36" gradientUnits="userSpaceOnUse" x1="0" y1="711.3" x2="0" y2="740.6"><stop offset="0.0239" stop-color="#c42838"/><stop offset="0.9795" stop-color="#c82a3a"/></linearGradient><linearGradient id="g37" gradientUnits="userSpaceOnUse" x1="0" y1="59.5" x2="0" y2="307.3"><stop offset="0.0000" stop-color="#f5dadb"/><stop offset="0.3652" stop-color="#f3d4d6"/><stop offset="0.7688" stop-color="#f0cace"/><stop offset="0.9988" stop-color="#eec2c6"/></linearGradient><linearGradient id="h38" gradientUnits="userSpaceOnUse" x1="432.90" y1="0" x2="442.90" y2="0"><stop offset="0.000" stop-color="#e890a0" stop-opacity="0.018"/><stop offset="0.125" stop-color="#e890a0" stop-opacity="0.105"/><stop offset="0.250" stop-color="#e890a0" stop-opacity="0.368"/><stop offset="0.375" stop-color="#e890a0" stop-opacity="0.779"/><stop offset="0.500" stop-color="#e890a0" stop-opacity="1.000"/><stop offset="0.625" stop-color="#e890a0" stop-opacity="0.779"/><stop offset="0.750" stop-color="#e890a0" stop-opacity="0.368"/><stop offset="0.875" stop-color="#e890a0" stop-opacity="0.105"/><stop offset="1.000" stop-color="#e890a0" stop-opacity="0.018"/></linearGradient><linearGradient id="g39" gradientUnits="userSpaceOnUse" x1="0" y1="59.5" x2="0" y2="307.3"><stop offset="0.0020" stop-color="#fff" stop-opacity="0.1"/><stop offset="0.5670" stop-color="#fff" stop-opacity="0.25"/><stop offset="0.9988" stop-color="#fff" stop-opacity="0.7"/></linearGradient><mask id="m40" maskUnits="userSpaceOnUse" x="432.90" y="59.5" width="10.00" height="247.80"><rect x="432.90" y="59.5" width="10.00" height="247.80" fill="url(#g39)"/></mask><linearGradient id="g41" gradientUnits="userSpaceOnUse" x1="0" y1="59.5" x2="0" y2="307.3"><stop offset="0.0020" stop-color="#e6b6bc"/><stop offset="0.9988" stop-color="#dc9aa2"/></linearGradient><linearGradient id="g42" gradientUnits="userSpaceOnUse" x1="0" y1="307.3" x2="0" y2="711.3"><stop offset="0.0017" stop-color="#f7e2e2"/><stop offset="0.4770" stop-color="#f6dede"/><stop offset="0.9993" stop-color="#f4d8da"/></linearGradient><linearGradient id="g43" gradientUnits="userSpaceOnUse" x1="0" y1="307.3" x2="0" y2="711.3"><stop offset="0.0017" stop-color="#e0b4b8"/><stop offset="0.9993" stop-color="#dcaab0"/></linearGradient><linearGradient id="g44" gradientUnits="userSpaceOnUse" x1="0" y1="711.3" x2="0" y2="740.6"><stop offset="0.0239" stop-color="#d64444"/><stop offset="0.6382" stop-color="#da5454"/><stop offset="0.9795" stop-color="#e06c6c"/></linearGradient><linearGradient id="h45" gradientUnits="userSpaceOnUse" x1="427.90" y1="0" x2="447.90" y2="0"><stop offset="0.000" stop-color="#c81818" stop-opacity="0.018"/><stop offset="0.125" stop-color="#c81818" stop-opacity="0.105"/><stop offset="0.250" stop-color="#c81818" stop-opacity="0.368"/><stop offset="0.375" stop-color="#c81818" stop-opacity="0.779"/><stop offset="0.500" stop-color="#c81818" stop-opacity="1.000"/><stop offset="0.625" stop-color="#c81818" stop-opacity="0.779"/><stop offset="0.750" stop-color="#c81818" stop-opacity="0.368"/><stop offset="0.875" stop-color="#c81818" stop-opacity="0.105"/><stop offset="1.000" stop-color="#c81818" stop-opacity="0.018"/></linearGradient><linearGradient id="g46" gradientUnits="userSpaceOnUse" x1="0" y1="711.3" x2="0" y2="740.6"><stop offset="0.0239" stop-color="#fff" stop-opacity="0.75"/><stop offset="0.9795" stop-color="#fff" stop-opacity="0.45"/></linearGradient><mask id="m47" maskUnits="userSpaceOnUse" x="427.90" y="711.3" width="20.00" height="29.30"><rect x="427.90" y="711.3" width="20.00" height="29.30" fill="url(#g46)"/></mask><linearGradient id="g48" gradientUnits="userSpaceOnUse" x1="0" y1="711.3" x2="0" y2="740.6"><stop offset="0.0239" stop-color="#c80c10"/><stop offset="0.9795" stop-color="#c80c10"/></linearGradient><filter id="tw" x="0" y="0" width="1" height="1" color-interpolation-filters="sRGB"><feTurbulence type="fractalNoise" baseFrequency="0.09 0.55" numOctaves="2" seed="7"/><feColorMatrix type="matrix" values="0 0 0 0 1  0 0 0 0 1  0 0 0 0 1  1.0 0 0 0 -0.46"/></filter><filter id="td" x="0" y="0" width="1" height="1" color-interpolation-filters="sRGB"><feTurbulence type="fractalNoise" baseFrequency="0.09 0.55" numOctaves="2" seed="19"/><feColorMatrix type="matrix" values="0 0 0 0 0.6  0 0 0 0 0.1  0 0 0 0 0.15  -0.9 0 0 0 0.37"/></filter><clipPath id="c49"><rect x="333.6" y="59.5" width="36.4" height="681.1"/></clipPath><clipPath id="c50"><rect x="376.6" y="59.5" width="36.4" height="681.1"/></clipPath><clipPath id="c51"><rect x="419.6" y="59.5" width="36.4" height="681.1"/></clipPath><clipPath id="c52"><rect x="462.8" y="59.5" width="36.2" height="681.1"/></clipPath><linearGradient id="ck" x1="0" x2="1" y1="0" y2="0"><stop offset="0" stop-color="#f8e4e6"/><stop offset="0.5" stop-color="#e07a84"/><stop offset="1" stop-color="#c41424"/></linearGradient></defs>
</svg>
</body></html>
